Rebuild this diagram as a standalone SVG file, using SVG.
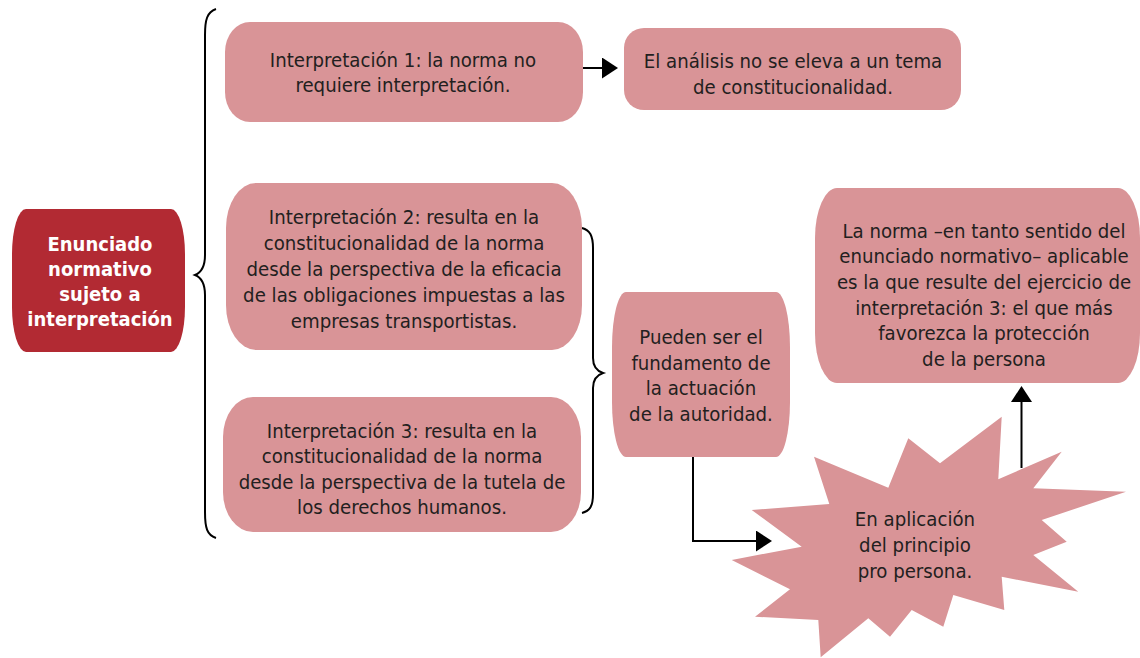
<svg xmlns="http://www.w3.org/2000/svg" width="1140" height="658" viewBox="0 0 1140 658">
<defs>
<style>
.box{fill:#D99497;}
.main{fill:#B22A33;}
.t{font-family:"DejaVu Sans Condensed","DejaVu Sans","Liberation Sans",sans-serif;font-stretch:condensed;font-size:20.2px;fill:#231F20;text-anchor:middle;}
.tb{font-family:"DejaVu Sans Condensed","DejaVu Sans","Liberation Sans",sans-serif;font-stretch:condensed;font-size:20px;font-weight:bold;fill:#FFFFFF;text-anchor:middle;}
.ln{fill:none;stroke:#000;stroke-width:2;}
</style>
<marker id="ah" markerUnits="userSpaceOnUse" markerWidth="16" markerHeight="21" refX="8" refY="10.5" orient="auto">
<path d="M0,0 L16,10.5 L0,21 z" fill="#000"/>
</marker>
</defs>
<rect width="1140" height="658" fill="#FFFFFF"/>
<g id="connectors">
<path class="ln" d="M216,9 C207,12 205,20 205,35 L205,255 C205,268 200,273 195,275 C200,277 205,282 205,295 L205,512 C205,528 207,535 216,538"/>
<path class="ln" d="M582,228 C590,230 593,236 593,248 L593,358 C593,366 597,371 603,373 C597,375 593,380 593,388 L593,494 C593,506 590,511 582,513"/>
<path class="ln" d="M583,68 L610,68" marker-end="url(#ah)"/>
<path class="ln" d="M693,457 L693,541 L764,541" marker-end="url(#ah)"/>
<path class="ln" d="M1021.5,468 L1021.5,394" marker-end="url(#ah)"/>
</g>
<g id="n-enunciado">
<rect class="main" x="12" y="209" width="173" height="143" rx="14" ry="45"/>
<text class="tb" x="100" y="250.5">Enunciado</text>
<text class="tb" x="100" y="275.5">normativo</text>
<text class="tb" x="100" y="301">sujeto a</text>
<text class="tb" x="100" y="326">interpretación</text>
</g>
<g id="n-interp1">
<rect class="box" x="225" y="22" width="358" height="100" rx="25" ry="30"/>
<text class="t" x="403" y="66.5">Interpretación 1: la norma no</text>
<text class="t" x="403" y="91.5">requiere interpretación.</text>
</g>
<g id="n-analisis">
<rect class="box" x="624" y="28" width="337" height="82" rx="20" ry="20"/>
<text class="t" x="793" y="67.5">El análisis no se eleva a un tema</text>
<text class="t" x="793" y="94">de constitucionalidad.</text>
</g>
<g id="n-interp2">
<rect class="box" x="226" y="183" width="356" height="167" rx="30" ry="45"/>
<text class="t" x="404" y="223.5">Interpretación 2: resulta en la</text>
<text class="t" x="404" y="249.5">constitucionalidad de la norma</text>
<text class="t" x="404" y="275.5">desde la perspectiva de la eficacia</text>
<text class="t" x="404" y="301.5">de las obligaciones impuestas a las</text>
<text class="t" x="404" y="327.5">empresas transportistas.</text>
</g>
<g id="n-interp3">
<rect class="box" x="223" y="397" width="358" height="135" rx="30" ry="40"/>
<text class="t" x="402" y="437.5">Interpretación 3: resulta en la</text>
<text class="t" x="402" y="463">constitucionalidad de la norma</text>
<text class="t" x="402" y="488.5">desde la perspectiva de la tutela de</text>
<text class="t" x="402" y="514">los derechos humanos.</text>
</g>
<g id="n-pueden">
<rect class="box" x="612" y="292" width="178" height="165" rx="14" ry="55"/>
<text class="t" x="701" y="344">Pueden ser el</text>
<text class="t" x="701" y="369.5">fundamento de</text>
<text class="t" x="701" y="395">la actuación </text>
<text class="t" x="701" y="420.5">de la autoridad.</text>
</g>
<g id="n-norma">
<rect class="box" x="815" y="188" width="325" height="195" rx="22" ry="50"/>
<text class="t" x="984" y="237.5">La norma –en tanto sentido del</text>
<text class="t" x="984" y="263.2">enunciado normativo– aplicable</text>
<text class="t" x="984" y="288.9">es la que resulte del ejercicio de</text>
<text class="t" x="984" y="314.6">interpretación 3: el que más</text>
<text class="t" x="984" y="340.3">favorezca la protección</text>
<text class="t" x="984" y="366">de la persona</text>
</g>
<g id="n-propersona">
<polygon class="box" points="1001.7,416.7 998.3,479.3 1061.7,451.7 1033.3,488.3 1126,491.7 1041.7,520 1066.7,541.7 1033.3,555 1078.3,591.7 1001.7,576.7 1004.3,610 953.3,595 943.3,626.7 911.7,610 890,636.7 868.3,618.3 820.7,657.3 818.3,620 755,616.7 790,589.3 731.7,560 801.7,546.7 751.7,510 829.3,504 814,456.7 888.3,487.7 908.3,438.3 940,463.3"/>
<text class="t" x="915" y="525.5">En aplicación</text>
<text class="t" x="915" y="552">del principio</text>
<text class="t" x="915" y="578">pro persona.</text>
</g>
</svg>
